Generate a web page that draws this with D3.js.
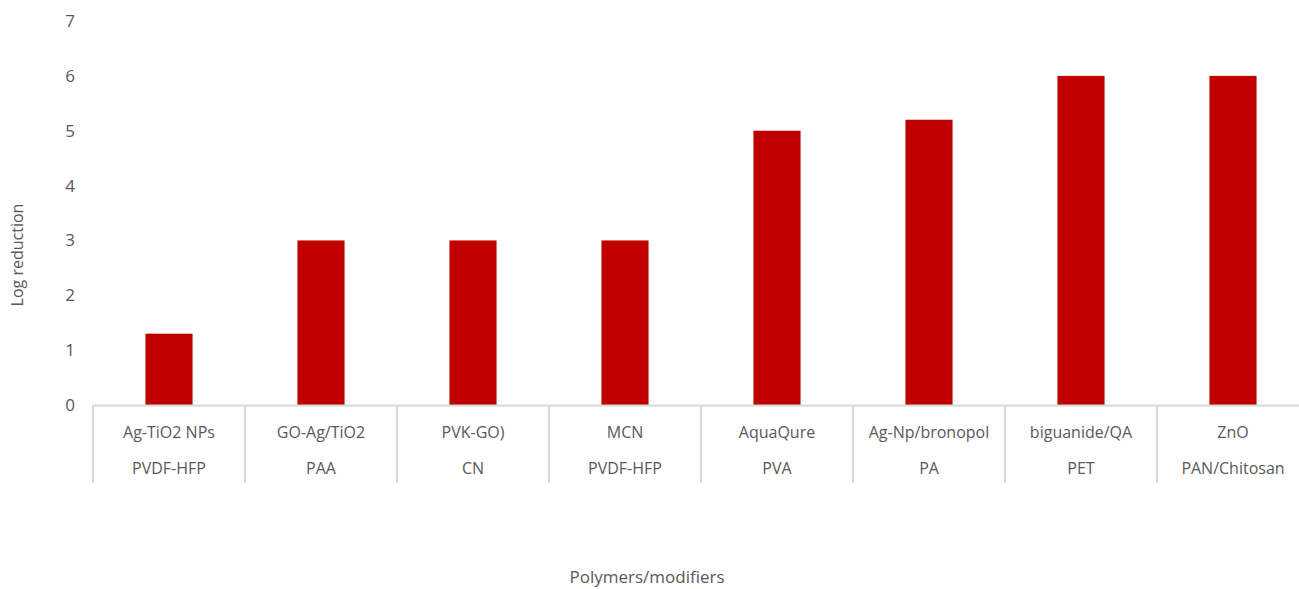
<!DOCTYPE html>
<html><head><meta charset="utf-8">
<script src="https://cdn.jsdelivr.net/npm/d3@7"></script>
<style>body{margin:0;background:#fff;} svg{display:block;font-family:"Open Sans","Noto Sans",sans-serif;}</style>
</head><body>
<svg id="c" width="1299" height="589"></svg>
<script>
const modifiers = ["Ag-TiO2 NPs","GO-Ag/TiO2","PVK-GO)","MCN","AquaQure","Ag-Np/bronopol","biguanide/QA","ZnO"];
const polymers = ["PVDF-HFP","PAA","CN","PVDF-HFP","PVA","PA","PET","PAN/Chitosan"];
const values = [1.3,3,3,3,5,5.2,6,6];
const yTicks = [0,1,2,3,4,5,6,7];
const yTitle = "Log reduction";
const xTitle = "Polymers/modifiers";

(function(){
const svg = d3.select("#c");
const pLeft = 93, pRight = 1309, pTop = 21, pBottom = 405;
const ids = d3.range(values.length);
const x = d3.scaleBand().domain(ids).range([pLeft, pRight]).paddingInner(0.69).paddingOuter(0.345);
const xb = d3.scaleBand().domain(ids).range([pLeft, pRight]);
const y = d3.scaleLinear().domain([0,7]).range([pBottom, pTop]);
const grey = "#595959", lineC = "#d9d9d9";

const yAxis = d3.axisLeft(y).tickValues(yTicks).tickFormat(d3.format("d")).tickSize(0).tickPadding(0);
const ya = svg.append("g").attr("transform", "translate(75,0)").call(yAxis);
ya.select(".domain").remove();
ya.selectAll("text").attr("fill", grey).style("font-size","17px").style("font-family",'"Open Sans"').attr("text-anchor","end");

svg.append("g").selectAll("rect").data(ids).join("rect")
  .attr("x", d => x(d)).attr("width", x.bandwidth())
  .attr("y", d => y(values[d])).attr("height", d => y(0) - y(values[d]))
  .attr("fill", "#C00000");

svg.append("line").attr("x1", pLeft).attr("x2", pRight).attr("y1", pBottom+0.5).attr("y2", pBottom+0.5)
  .attr("stroke", lineC).attr("stroke-width", 2);

svg.append("g").selectAll("line").data(d3.range(values.length+1)).join("line")
  .attr("x1", d => pLeft + d*xb.bandwidth()).attr("x2", d => pLeft + d*xb.bandwidth())
  .attr("y1", pBottom).attr("y2", 483).attr("stroke", lineC).attr("stroke-width", 2);

const lab = svg.append("g").attr("fill", grey).style("font-size","16px").attr("text-anchor","middle");
lab.selectAll("text.m").data(ids).join("text").attr("class","m")
  .attr("x", d => xb(d) + xb.bandwidth()/2).attr("y", 438).text(d => modifiers[d]);
lab.selectAll("text.p").data(ids).join("text").attr("class","p")
  .attr("x", d => xb(d) + xb.bandwidth()/2).attr("y", 474).text(d => polymers[d]);

svg.append("text").attr("transform","translate(23,255) rotate(-90)").attr("text-anchor","middle")
  .attr("fill", grey).style("font-size","16px").text(yTitle);
svg.append("text").attr("x", 647).attr("y", 583).attr("text-anchor","middle")
  .attr("fill", grey).style("font-size","17px").text(xTitle);
})();
</script>
</body></html>
